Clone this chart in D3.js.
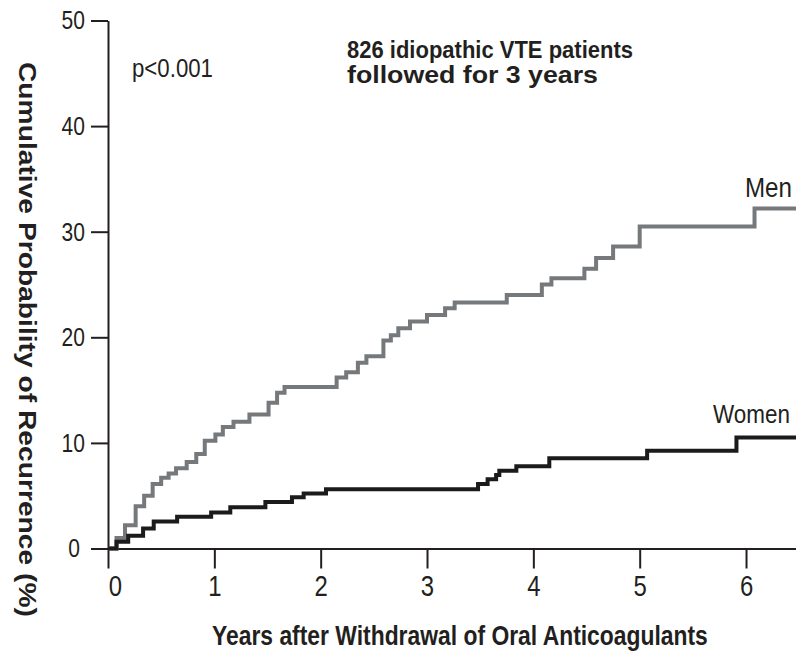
<html>
<head>
<style>
  body { margin: 0; background: #fff; }
  svg text { font-family: "Liberation Sans", Arial, "Helvetica", sans-serif; fill: #231f20; }
</style>
<script src="https://cdnjs.cloudflare.com/ajax/libs/d3/7.8.5/d3.min.js"></script>
</head>
<body>
<script>
// Kaplan-Meier style cumulative recurrence
const menYears = [0, 0.08, 0.16, 0.26, 0.34, 0.42, 0.50, 0.57, 0.64, 0.74, 0.83, 0.91, 1.01, 1.08, 1.18, 1.33, 1.51, 1.59, 1.66, 2.15, 2.24, 2.35, 2.43, 2.59, 2.66, 2.73, 2.84, 3.00, 3.17, 3.26, 3.75, 4.08, 4.17, 4.48, 4.59, 4.75, 5.00, 6.08];
const menRisk  = [0, 1.0, 2.2, 4.0, 5.0, 6.1, 6.7, 7.1, 7.6, 8.2, 8.95, 10.2, 10.8, 11.5, 12.0, 12.7, 13.8, 14.75, 15.3, 16.2, 16.7, 17.6, 18.2, 19.7, 20.2, 20.85, 21.5, 22.1, 22.75, 23.3, 24.0, 25.0, 25.6, 26.5, 27.5, 28.6, 30.5, 32.2];

const womenYears = [0, 0.08, 0.19, 0.33, 0.43, 0.65, 0.97, 1.15, 1.48, 1.73, 1.84, 2.05, 3.48, 3.57, 3.65, 3.68, 3.84, 4.15, 5.07, 5.91];
const womenRisk  = [0, 0.65, 1.2, 1.9, 2.55, 3.0, 3.4, 3.9, 4.4, 4.85, 5.2, 5.6, 6.1, 6.55, 6.95, 7.37, 7.8, 8.55, 9.26, 10.5];

const xTicks = [0, 1, 2, 3, 4, 5, 6];
const yTicks = [0, 10, 20, 30, 40, 50];
const xMax = 6.47;

const width = 796, height = 656;
const ink = '#231f20';

const svg = d3.select('body').append('svg')
    .attr('width', width)
    .attr('height', height);

const x = d3.scaleLinear().domain([0, xMax]).range([108, 796]);
const y = d3.scaleLinear().domain([0, 50]).range([548.5, 20.5]);

// condensed look: narrow a text horizontally so it keeps its height
// but takes the width it has in the figure
function narrow(node, w) {
    const t = d3.select(node);
    const tx = +t.attr('x') || 0, ty = +t.attr('y') || 0;
    const sx = w / node.getComputedTextLength();
    t.attr('x', 0).attr('y', 0)
        .attr('transform', `translate(${tx}, ${ty}) scale(${sx}, 1)`);
}

// axes
const xAxis = svg.append('g')
    .attr('transform', `translate(0, ${y(0)})`)
    .call(d3.axisBottom(x).tickValues(xTicks).tickFormat(d3.format('d'))
        .tickSize(20).tickSizeOuter(0).tickPadding(7));
xAxis.selectAll('text')
    .attr('font-size', 29)
    .attr('x', d => d === 0 ? 7 : 0)
    .each(function() { narrow(this, 13.3); });

const yAxis = svg.append('g')
    .attr('transform', `translate(${x(0)}, 0)`)
    .call(d3.axisLeft(y).tickValues(yTicks).tickFormat(d3.format('d'))
        .tickSize(17).tickSizeOuter(0).tickPadding(6));
yAxis.selectAll('text')
    .attr('font-size', 26)
    .attr('x', d => d === 0 ? -28 : -23)
    .each(function(d) { narrow(this, String(d).length * 11.7); });

svg.selectAll('.domain, .tick line')
    .attr('stroke', ink)
    .attr('stroke-width', 2);
svg.selectAll('.tick text').style('fill', ink);

// step curves
const line = d3.line()
    .x(d => x(d[0]))
    .y(d => y(d[1]))
    .curve(d3.curveStepAfter);

function series(years, risk) {
    const pts = years.map((t, i) => [t, risk[i]]);
    pts.push([xMax, risk[risk.length - 1]]);
    return pts;
}

svg.append('path')
    .attr('d', line(series(menYears, menRisk)))
    .attr('fill', 'none')
    .attr('stroke', '#76797c')
    .attr('stroke-width', 4);

svg.append('path')
    .attr('d', line(series(womenYears, womenRisk)))
    .attr('fill', 'none')
    .attr('stroke', '#1c1a1b')
    .attr('stroke-width', 4);

// labels
function label(tx, ty, size, w, str, bold) {
    const t = svg.append('text')
        .attr('x', tx).attr('y', ty)
        .attr('font-size', size)
        .attr('font-weight', bold ? 'bold' : 'normal')
        .text(str);
    narrow(t.node(), w);
    return t;
}

label(745, 197, 28, 47, 'Men');
label(713, 423, 26, 77, 'Women');
label(132, 77, 26.5, 81, 'p<0.001');
label(347, 58, 23, 286, '826 idiopathic VTE patients', true);
label(347, 83, 23, 251, 'followed for 3 years', true);

// axis titles
label(212, 645, 27, 496, 'Years after Withdrawal of Oral Anticoagulants', true);

const yTitle = svg.append('g')
    .attr('transform', 'translate(19, 62) rotate(90)');
const yt = yTitle.append('text')
    .attr('font-size', 24)
    .attr('font-weight', 'bold')
    .text('Cumulative Probability of Recurrence (%)');
narrow(yt.node(), 555);
</script>
</body>
</html>
